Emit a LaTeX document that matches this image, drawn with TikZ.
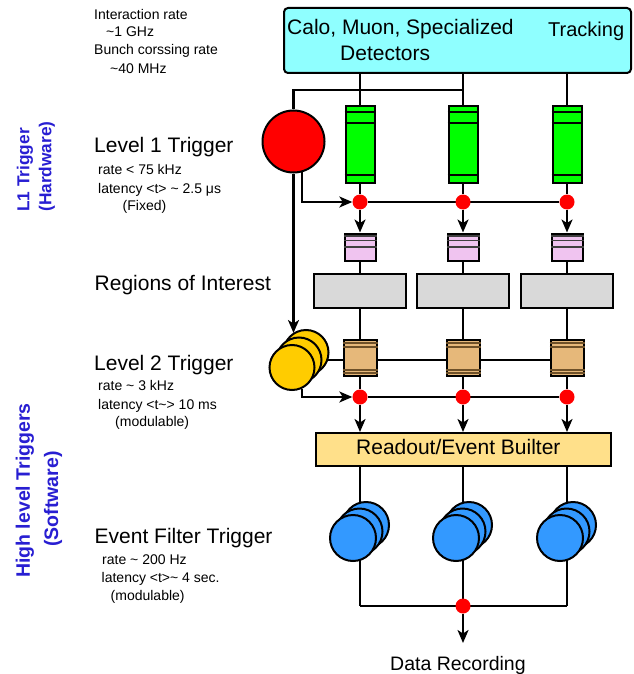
\documentclass[tikz,border=0pt]{standalone}
\usepackage{fontspec}
\setmainfont{Liberation Sans}
\usetikzlibrary{arrows.meta,backgrounds}
\definecolor{detc}{RGB}{143,255,255}
\definecolor{grnc}{RGB}{0,255,0}
\definecolor{pnkc}{RGB}{240,196,240}
\definecolor{gryc}{RGB}{217,217,217}
\definecolor{tanc}{RGB}{230,184,122}
\definecolor{tanl}{RGB}{110,80,40}
\definecolor{ylwc}{RGB}{255,204,0}
\definecolor{bluc}{RGB}{51,153,255}
\definecolor{rdoc}{RGB}{255,224,138}
\definecolor{sidec}{RGB}{40,30,210}
\tikzset{
  shp/.style={draw, line width=2pt, inner sep=0pt},
  detbox/.style={shp, fill=detc, rounded corners=4pt, minimum width=347pt, minimum height=65pt},
  greenbox/.style={shp, fill=grnc, minimum width=29pt, minimum height=77pt},
  pinkbox/.style={shp, fill=pnkc, minimum width=31pt, minimum height=27pt},
  graybox/.style={shp, fill=gryc, minimum width=92pt, minimum height=34pt},
  tanbox/.style={shp, fill=tanc, minimum width=33pt, minimum height=36pt},
  robox/.style={shp, fill=rdoc, minimum width=295pt, minimum height=33pt},
  disk/.style={shp, circle},
  rdot/.style={circle, fill=red, minimum size=15pt, inner sep=0pt},
  bigtxt/.style={font=\fontsize{21}{25}\selectfont, inner sep=0pt, anchor=base west},
  smalltxt/.style={font=\fontsize{14}{17}\selectfont, inner sep=0pt, anchor=base west},
  sideA/.style={font=\bfseries\fontsize{17.3}{20}\selectfont, text=sidec, rotate=90, inner sep=0pt},
  sideB/.style={font=\bfseries\fontsize{19.5}{22}\selectfont, text=sidec, rotate=90, inner sep=0pt},
  conn/.style={line width=2.1pt},
  arr/.style={conn, -{Stealth[length=13pt,width=11pt,inset=3.5pt]}},
  inl/.style={line width=1.2pt}
}
\begin{document}
\begin{tikzpicture}[x=1pt,y=-1pt]
\useasboundingbox (0,0) rectangle (633,674);

% detector box
\node[detbox] (det) at (457.5,40.5) {};
\node[bigtxt] (calo) at (287,35) {Calo, Muon, Specialized};
\node[bigtxt] (dets) at (340,60.7) {Detectors};
\node[bigtxt, font=\fontsize{20}{24}\selectfont] (trk) at (548,36.7) {Tracking};

% left texts
\node[smalltxt] (ir1) at (94,19.5) {Interaction rate};
\node[smalltxt] (ir2) at (106,36.7) {\textasciitilde1 GHz};
\node[smalltxt] (bc1) at (94,55) {Bunch corssing rate};
\node[smalltxt] (bc2) at (110,74) {\textasciitilde40 MHz};

\node[bigtxt] (lv1) at (94,152.7) {Level 1 Trigger};
\node[smalltxt] (lv1a) at (98,174) {rate < 75 kHz};
\node[smalltxt] (lv1b) at (98,193) {latency <t> \textasciitilde{} 2.5 μs};
\node[smalltxt] (lv1c) at (122.5,210) {(Fixed)};

\node[bigtxt] (roi) at (94.5,290) {Regions of Interest};

\node[bigtxt] (lv2) at (94,370) {Level 2 Trigger};
\node[smalltxt] (lv2a) at (98,390) {rate \textasciitilde{} 3 kHz};
\node[smalltxt] (lv2b) at (98,409) {latency <t\textasciitilde> 10 ms};
\node[smalltxt] (lv2c) at (115,426.7) {(modulable)};

\node[bigtxt] (ef) at (94.5,543) {Event Filter Trigger};
\node[smalltxt] (efa) at (102,564) {rate \textasciitilde{} 200 Hz};
\node[smalltxt] (efb) at (101.5,582) {latency <t>\textasciitilde{} 4 sec.};
\node[smalltxt] (efc) at (110.5,600) {(modulable)};

% side labels
\node[sideA] (l1a) at (25,170) {L1 Trigger};
\node[sideA] (l1b) at (47,166.5) {(Hardware)};
\node[sideB] (hla) at (25,490.5) {High level Triggers};
\node[sideB] (hlb) at (53,499) {(Software)};

% L1 processor
\node[disk, fill=red, minimum size=62pt] (red) at (293.5,141.5) {};

% L2 processors
\node[disk, fill=ylwc, minimum size=45pt] (yb) at (306,352.5) {};
\node[disk, fill=ylwc, minimum size=45pt] (ym) at (299,360) {};
\node[disk, fill=ylwc, minimum size=45pt] (yf) at (292,367.5) {};

% columns
\foreach \i/\x in {1/360,2/463,3/567} {
  \node[greenbox] (g\i) at (\x,144.5) {};
  \draw[inl] ([yshift=-7pt]g\i.north west) -- ([yshift=-7pt]g\i.north east);
  \draw[inl] ([yshift=-18pt]g\i.north west) -- ([yshift=-18pt]g\i.north east);
  \draw[inl] ([yshift=9pt]g\i.south west) -- ([yshift=9pt]g\i.south east);
  \node[rdot] (d\i) at (\x,202) {};
  \node[pinkbox] (p\i) at (\x,247) {};
  \draw[inl, draw=black!75] ([yshift=-3.5pt]p\i.north west) -- ([yshift=-3.5pt]p\i.north east);
  \draw[inl, draw=black!75] ([yshift=-8pt]p\i.north west) -- ([yshift=-8pt]p\i.north east);
  \draw[inl, draw=black!75] ([yshift=-14.5pt]p\i.north west) -- ([yshift=-14.5pt]p\i.north east);
  \node[graybox] (gr\i) at (\x,291) {};
  \node[tanbox] (t\i) at (\x,358) {};
  \draw[inl, draw=tanl] ([yshift=-4pt]t\i.north west) -- ([yshift=-4pt]t\i.north east);
  \draw[inl, draw=tanl] ([yshift=-8pt]t\i.north west) -- ([yshift=-8pt]t\i.north east);
  \draw[inl, draw=tanl] ([yshift=4pt]t\i.south west) -- ([yshift=4pt]t\i.south east);
  \draw[inl, draw=tanl] ([yshift=7pt]t\i.south west) -- ([yshift=7pt]t\i.south east);
  \node[rdot] (e\i) at (\x,397) {};
  \node[disk, fill=bluc, minimum size=46pt] (bb\i) at (\x+6,525) {};
  \node[disk, fill=bluc, minimum size=46pt] (bm\i) at (\x-0.5,531.5) {};
  \node[disk, fill=bluc, minimum size=46pt] (bf\i) at (\x-7,538) {};
}

% event builder
\node[robox] (ro) at (463.5,449.5) {};
\node[bigtxt] (rot) at (356,454.3) {Readout/Event Builter};

% final merge
\node[rdot] (fin) at (463,606) {};
\node[bigtxt, font=\fontsize{19.5}{23}\selectfont] (dr) at (390,670) {Data Recording};

\coordinate (by) at (463,90);
\coordinate (yin) at (293.5,333);
\coordinate (drin) at (463,643);

\begin{scope}[on background layer]
\foreach \i in {1,2,3} {
  \draw[conn] (det.south -| g\i) -- (g\i.north);
  \draw[conn] (g\i) -- (d\i);
  \draw[arr] (d\i) -- (p\i);
  \draw[conn] (p\i) -- (gr\i);
  \draw[conn] (gr\i) -- (t\i);
  \draw[conn] (t\i) -- (e\i);
  \draw[arr] (e\i) -- (ro.north -| e\i);
  \draw[conn] (ro.south -| e\i) -- (e\i |- bb\i.center);
  \draw[conn] (bf\i.center -| e\i) -- (e\i |- fin);
}
\draw[conn] (d1) -- (d3);
\draw[conn] (e1) -- (e3);
\draw[conn] (by) -| (red.north);
\draw[arr] (red.south) -- (yin);
\draw[arr] (red.-75) |- (d1);
\draw[conn] (ym.center) -- (ym.center -| t3);
\draw[arr] (yf.-66) |- (e1);
\draw[conn] (e1 |- fin) -- (e3 |- fin);
\draw[arr] (fin) -- (drin);
\end{scope}
\end{tikzpicture}
\end{document}
